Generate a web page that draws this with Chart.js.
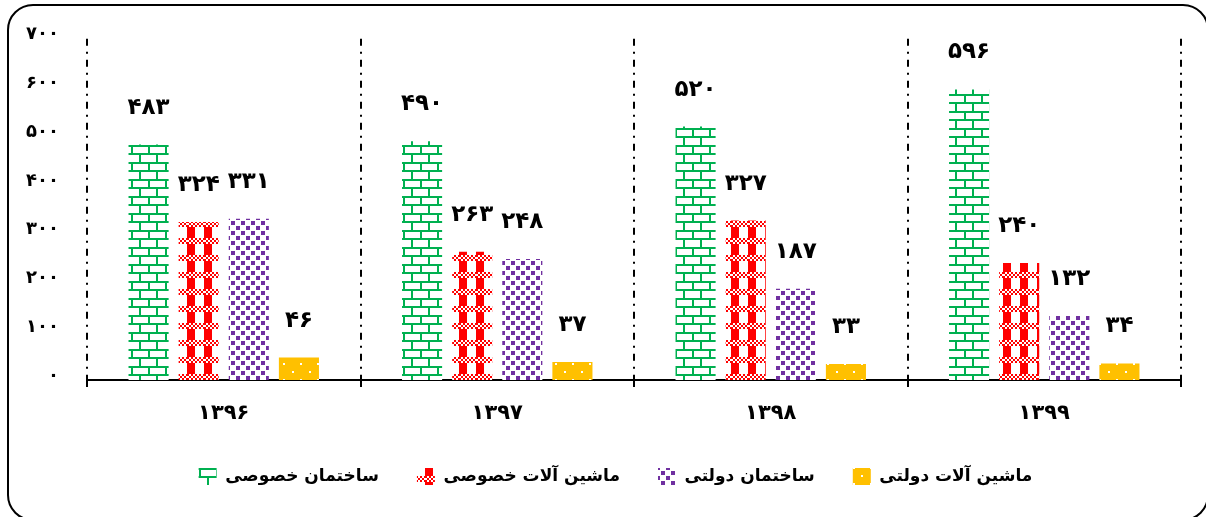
<!DOCTYPE html>
<html>
<head>
<meta charset="utf-8">
<script src="https://cdn.jsdelivr.net/npm/chart.js@4"></script>
<style>
  html, body { margin: 0; padding: 0; background: #fff; overflow: hidden; }
  #wrap { position: relative; width: 1206px; height: 517px; }
  #frame { position: absolute; left: 7px; top: 4px; width: 1198px; height: 513px; border: 2px solid #000; border-radius: 26px; pointer-events: none; }
  canvas { position: absolute; left: 0; top: 0; }
</style>
</head>
<body>
<div id="wrap">
  <canvas id="c" width="1206" height="517"></canvas>
  <div id="frame"></div>
</div>
<script>
// ---- data ----
const categories = ['۱۳۹۶', '۱۳۹۷', '۱۳۹۸', '۱۳۹۹'];
const seriesNames = ['ساختمان خصوصی', 'ماشین آلات خصوصی', 'ساختمان دولتی', 'ماشین آلات دولتی'];
const privateBuilding = [483, 490, 520, 596];
const privateMachinery = [324, 263, 327, 240];
const publicBuilding = [331, 248, 187, 132];
const publicMachinery = [46, 37, 33, 34];
const yMin = 0;
const yMax = 700;
const yStep = 100;

const FONT = "'DejaVu Sans', 'Noto Sans', sans-serif";
const faDigits = ['۰','۱','۲','۳','۴','۵','۶','۷','۸','۹'];
function toFa(n) { return String(n).replace(/[0-9]/g, d => faDigits[+d]); }

// ---- patterns ----
function makeTile(w, h, draw) {
  const c = document.createElement('canvas');
  c.width = w; c.height = h;
  const g = c.getContext('2d');
  draw(g, w, h);
  return document.getElementById('c').getContext('2d').createPattern(c, 'repeat');
}
const greenPat = makeTile(17, 17, (g, w, h) => {
  g.fillStyle = '#fff'; g.fillRect(0, 0, w, h);
  g.fillStyle = '#00B050';
  g.fillRect(0, 0, w, 2);
  g.fillRect(0, 9, w, 2);
  g.fillRect(3, 0, 2, 9);
  g.fillRect(12, 9, 2, 8);
});
const redPat = makeTile(17, 17, (g, w, h) => {
  g.fillStyle = '#fff'; g.fillRect(0, 0, w, h);
  g.fillStyle = '#FF0000';
  g.fillRect(0, 0, 8, h);
  for (let y = 0; y < 6; y += 2) {
    for (let x = 0; x < w; x += 2) {
      g.fillStyle = (((x + y) / 2) % 2 === 0) ? '#FF0000' : '#fff';
      g.fillRect(x, y, 2, 2);
    }
  }
});
const purplePat = makeTile(10, 10, (g, w, h) => {
  g.fillStyle = '#fff'; g.fillRect(0, 0, w, h);
  g.fillStyle = '#7030A0';
  g.fillRect(1, 1, 4, 4);
  g.fillRect(6, 6, 4, 4);
});
const yellowPat = makeTile(17, 16, (g, w, h) => {
  g.fillStyle = '#FFC000'; g.fillRect(0, 0, w, h);
  g.fillStyle = '#fff';
  g.fillRect(3, 3, 2, 2);
  g.fillRect(11, 11, 2, 2);
});

const valueLabels = {
  id: 'valueLabels',
  afterDatasetsDraw(chart) {
    const ctx = chart.ctx;
    ctx.save();
    ctx.font = 'bold 23px ' + FONT;
    ctx.fillStyle = '#000';
    ctx.textAlign = 'center';
    ctx.textBaseline = 'middle';
    chart.data.datasets.forEach((ds, i) => {
      const meta = chart.getDatasetMeta(i);
      meta.data.forEach((bar, j) => {
        ctx.fillText(toFa(ds.data[j]), bar.x, bar.y - 37);
      });
    });
    ctx.restore();
  }
};

// shift the legend block so it is centred like the original
const legendShift = {
  id: 'legendShift',
  afterLayout(chart) {
    if (chart.legend) { chart.legend.left += 25; chart.legend.right += 25; }
  }
};

new Chart(document.getElementById('c'), {
  type: 'bar',
  data: {
    labels: categories,
    datasets: [
      { label: seriesNames[0], data: privateBuilding, backgroundColor: greenPat, borderWidth: 0 },
      { label: seriesNames[1], data: privateMachinery, backgroundColor: redPat, borderWidth: 0 },
      { label: seriesNames[2], data: publicBuilding, backgroundColor: purplePat, borderWidth: 0 },
      { label: seriesNames[3], data: publicMachinery, backgroundColor: yellowPat, borderWidth: 0 }
    ]
  },
  options: {
    responsive: false,
    animation: false,
    devicePixelRatio: 1,
    categoryPercentage: 0.733,
    barPercentage: 0.8,
    layout: { padding: { top: 38, right: 25, bottom: 22, left: 0 } },
    plugins: {
      legend: {
        position: 'bottom',
        labels: {
          boxWidth: 18, boxHeight: 17, padding: 38,
          color: '#000',
          font: { family: FONT, size: 17, weight: 'bold' }
        }
      },
      tooltip: { enabled: false }
    },
    scales: {
      x: {
        afterFit(scale) { scale.height = 50; },
        grid: {
          offset: true,
          color: '#000',
          lineWidth: 2,
          drawTicks: true,
          tickLength: 7,
          tickColor: '#000',
          tickWidth: 2,
          tickBorderDash: []
        },
        border: { display: true, color: '#000', width: 2, dash: [7, 6, 2, 6] },
        ticks: {
          color: '#000',
          padding: 14,
          font: { family: FONT, size: 21, weight: 'bold' }
        }
      },
      y: {
        min: yMin,
        max: yMax,
        afterFit(scale) { scale.width = 87; },
        grid: { display: false, drawTicks: false, tickLength: 0 },
        border: { display: false },
        ticks: {
          stepSize: yStep,
          padding: 28,
          labelOffset: -4,
          color: '#000',
          font: { family: FONT, size: 18, weight: 'bold' },
          callback: (v) => toFa(v)
        }
      }
    }
  },
  plugins: [valueLabels, legendShift]
});
</script>
</body>
</html>
